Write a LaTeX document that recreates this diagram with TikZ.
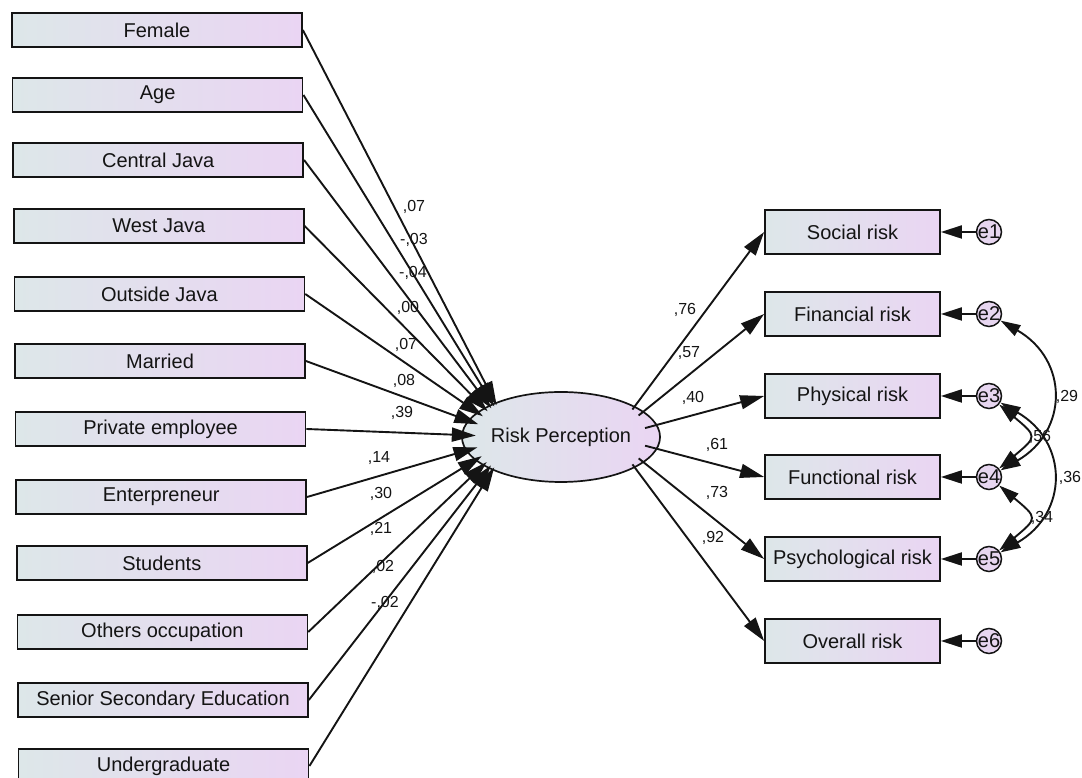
\documentclass[tikz,border=0pt]{standalone}
\usepackage{fontspec}
\setmainfont{Liberation Sans}
\usetikzlibrary{arrows.meta,shapes.geometric}
\definecolor{boxL}{RGB}{221,231,233}
\definecolor{boxR}{RGB}{234,213,243}
\definecolor{ink}{RGB}{20,20,20}
\definecolor{errfill}{RGB}{231,214,240}
\begin{document}
\begin{tikzpicture}[x=1pt,y=1pt,
  obs/.style={draw=ink, line width=1.7pt, left color=boxL, right color=boxR,
    minimum width=290pt, minimum height=34pt, inner sep=0pt,
    font=\fontsize{20pt}{24pt}\selectfont, text=ink},
  robs/.style={obs, minimum width=175pt, minimum height=44pt},
  lat/.style={ellipse, draw=ink, line width=1.7pt, left color=boxL, right color=boxR,
    minimum width=172pt, minimum height=90pt, inner sep=0pt,
    font=\fontsize{20pt}{24pt}\selectfont, text=ink},
  err/.style={circle, draw=ink, line width=1.5pt, fill=errfill,
    minimum size=25pt, inner sep=0pt},
  etext/.style={font=\fontsize{20pt}{24pt}\selectfont, text=ink, inner sep=0pt},
  conn/.style={draw=ink, line width=1.9pt, -{Triangle[length=24pt,width=14pt]}},
  econn/.style={draw=ink, line width=1.9pt, -{Triangle[length=21pt,width=13pt]}},
  cov/.style={draw=ink, line width=1.9pt, {Triangle[length=20pt,width=12pt]}-{Triangle[length=20pt,width=12pt]}},
  coef/.style={font=\fontsize{16pt}{19pt}\selectfont, text=ink, inner sep=0pt}
]
\useasboundingbox (0,0) rectangle (1082,778);

% exogenous observed variables
\node[obs] (x1) at (157,748) {Female};
\node[obs] (x2) at (157.6,683) {Age};
\node[obs] (x3) at (158.2,618) {Central Java};
\node[obs] (x4) at (158.8,552) {West Java};
\node[obs] (x5) at (159.4,484) {Outside Java};
\node[obs] (x6) at (160,417) {Married};
\node[obs] (x7) at (160.6,349) {Private employee};
\node[obs] (x8) at (161.2,281) {Enterpreneur};
\node[obs] (x9) at (161.8,215) {Students};
\node[obs] (x10) at (162.4,146) {Others occupation};
\node[obs] (x11) at (163,78) {Senior Secondary Education};
\node[obs] (x12) at (163.6,12) {Undergraduate};

% latent
\node[lat] (rp) at (561,341) {Risk Perception};
\node[ellipse, minimum width=74pt, minimum height=70pt, inner sep=0pt] (hl) at (513,341) {};
\node[circle, minimum size=68pt, inner sep=0pt] (hr) at (612,341) {};

% indicators
\node[robs] (y1) at (852.5,546) {Social risk};
\node[robs] (y2) at (852.5,464) {Financial risk};
\node[robs] (y3) at (852.5,382) {Physical risk};
\node[robs] (y4) at (852.5,301) {Functional risk};
\node[robs] (y5) at (852.5,219) {Psychological risk};
\node[robs] (y6) at (852.5,137) {Overall risk};

% errors
\node[err, label={[etext]center:e1}] (e1) at (989,546) {};
\node[err, label={[etext]center:e2}] (e2) at (989,464) {};
\node[err, label={[etext]center:e3}] (e3) at (989,382) {};
\node[err, label={[etext]center:e4}] (e4) at (989,301) {};
\node[err, label={[etext]center:e5}] (e5) at (989,219) {};
\node[err, label={[etext]center:e6}] (e6) at (989,137) {};

% paths into latent
\foreach \i in {1,...,12} { \draw[conn] (x\i.east) -- (hl); }
% paths out of latent
\foreach \i in {1,...,6} { \draw[conn] (hr) -- (y\i.west); }
% error paths
\foreach \i in {1,...,6} { \draw[econn] (e\i) -- (y\i); }

% covariances
\draw[cov] (e2) to[out=-30,in=30,looseness=1.35] (e4);
\draw[cov] (e3) to[out=-40,in=40,looseness=2] (e4);
\draw[cov] (e3) to[out=-30,in=30,looseness=1.35] (e5);
\draw[cov] (e4) to[out=-40,in=40,looseness=2] (e5);

% coefficients left
\node[coef] at (414,571) {,07};
\node[coef] at (414,538) {-,03};
\node[coef] at (413,505) {-,04};
\node[coef] at (408,470) {,00};
\node[coef] at (406,433) {,07};
\node[coef] at (404,397) {,08};
\node[coef] at (402,365) {,39};
\node[coef] at (379,320) {,14};
\node[coef] at (381,284) {,30};
\node[coef] at (381,249) {,21};
\node[coef] at (383,211) {,02};
\node[coef] at (385,175) {-,02};

% coefficients right
\node[coef] at (685,468) {,76};
\node[coef] at (689,425) {,57};
\node[coef] at (693,380) {,40};
\node[coef] at (717,333) {,61};
\node[coef] at (717,285) {,73};
\node[coef] at (713,240) {,92};

% covariance labels
\node[coef] at (1067,381) {,29};
\node[coef] at (1040,341) {,56};
\node[coef] at (1070,300) {,36};
\node[coef] at (1042,260) {,34};
\end{tikzpicture}
\end{document}
